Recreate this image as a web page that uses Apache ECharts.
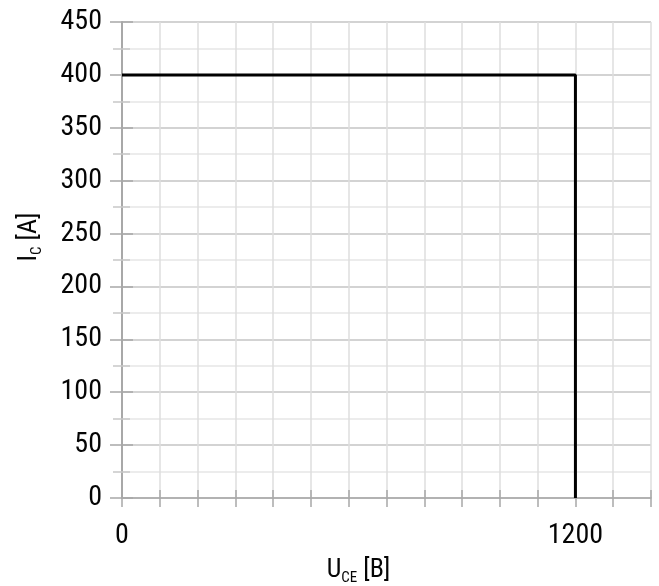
<!DOCTYPE html>
<html>
<head>
<meta charset="utf-8">
<script src="https://cdn.jsdelivr.net/npm/echarts@6/dist/echarts.min.js"></script>
<style>
  html, body { margin: 0; padding: 0; background: #fff; }
  #chart { width: 659px; height: 586px; }
</style>
</head>
<body>
<div id="chart"></div>
<script>
// Safe operating area: collector voltage vs collector current
const uceValues = [0, 1200, 1200];
const icValues = [400, 400, 0];
const xTickLabels = [0, 1200];

const FONT = "'Roboto Condensed', 'Liberation Sans Narrow', 'Arial Narrow', 'Liberation Sans', sans-serif";
const AXIS_GRAY = '#a8a8a8';
const TEXT = '#050505';

const points = uceValues.map((u, i) => [u, icValues[i]]);

const chart = echarts.init(document.getElementById('chart'), null, { renderer: 'canvas' });

chart.setOption({
  animation: false,
  backgroundColor: '#ffffff',
  grid: { left: 122, top: 22, right: 8, bottom: 88, containLabel: false, outerBoundsMode: 'none' },
  xAxis: [
    {
      type: 'value', min: 0, max: 1400, interval: 100,
      axisLine: { show: true, onZero: false, lineStyle: { color: AXIS_GRAY, width: 1.5 } },
      axisTick: { show: true, length: 9, lineStyle: { color: AXIS_GRAY, width: 1.5 } },
      axisLabel: {
        margin: 24, fontFamily: FONT, fontSize: 28, color: TEXT,
        formatter: v => (xTickLabels.indexOf(v) >= 0 ? String(v) : '')
      },
      splitLine: { show: true, lineStyle: { color: '#dedede', width: 1.5 } },
      name: '{b|U}{s|CE}{b| [B]}',
      nameLocation: 'middle',
      nameGap: 56,
      nameTextStyle: {
        padding: [0, 56, 0, 0],
        rich: {
          b: { fontFamily: FONT, fontSize: 26, color: TEXT, lineHeight: 32 },
          s: { fontFamily: FONT, fontSize: 15, color: TEXT, lineHeight: 13, verticalAlign: 'bottom' }
        }
      }
    },
    {
      // inner half of the crossing x ticks
      type: 'value', min: 0, max: 1400, interval: 100, position: 'bottom',
      axisLine: { show: false },
      axisTick: { show: true, inside: true, length: 8, lineStyle: { color: AXIS_GRAY, width: 1.5 } },
      axisLabel: { show: false },
      splitLine: { show: false }
    }
  ],
  yAxis: [
    {
      type: 'value', min: 0, max: 450, interval: 50,
      axisLine: { show: true, lineStyle: { color: AXIS_GRAY, width: 2 } },
      axisTick: { show: true, length: 12, lineStyle: { color: AXIS_GRAY, width: 1.5 } },
      minorTick: { show: true, splitNumber: 2, length: 9, lineStyle: { color: '#c8c8c8', width: 1.5 } },
      axisLabel: { margin: 20, fontFamily: FONT, fontSize: 28, color: TEXT },
      splitLine: { show: true, lineStyle: { color: '#c4c4c4', width: 1.5 } },
      minorSplitLine: { show: true, lineStyle: { color: '#e6e6e6', width: 1.5 } },
      name: '{b|I}{s|C}{b| [A]}',
      nameLocation: 'middle',
      nameGap: 77,
      nameRotate: 90,
      nameTextStyle: {
        padding: [0, 0, 0, 46],
        rich: {
          b: { fontFamily: FONT, fontSize: 26, color: TEXT, lineHeight: 32 },
          s: { fontFamily: FONT, fontSize: 15, color: TEXT, lineHeight: 13, verticalAlign: 'bottom' }
        }
      }
    },
    {
      // inner half of the crossing y ticks
      type: 'value', min: 0, max: 450, interval: 50, position: 'left',
      axisLine: { show: false },
      axisTick: { show: true, inside: true, length: 11, lineStyle: { color: AXIS_GRAY, width: 1.5 } },
      minorTick: { show: true, splitNumber: 2, length: 8, lineStyle: { color: '#c8c8c8', width: 1.5 } },
      axisLabel: { show: false },
      splitLine: { show: false }
    }
  ],
  series: [
    {
      type: 'line',
      data: points,
      xAxisIndex: 0,
      yAxisIndex: 0,
      symbol: 'none',
      lineStyle: { color: '#000', width: 3 },
      z: 10
    }
  ]
});
</script>
</body>
</html>
